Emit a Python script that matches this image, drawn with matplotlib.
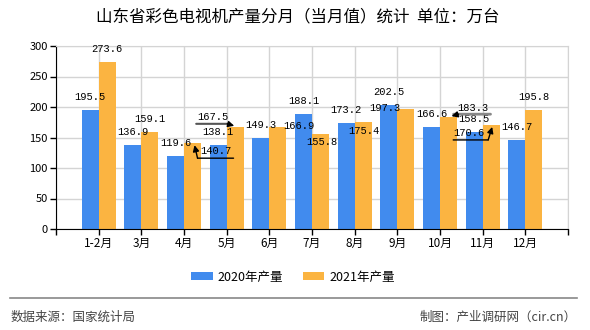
import matplotlib
matplotlib.use("Agg")
import matplotlib.pyplot as plt
from matplotlib.lines import Line2D
from matplotlib.transforms import offset_copy
import numpy as np

plt.rcParams['font.family'] = ['Noto Sans CJK SC', 'DejaVu Sans']

categories = ["1-2月", "3月", "4月", "5月", "6月", "7月", "8月", "9月", "10月", "11月", "12月"]
values_2020 = [195.5, 136.9, 119.6, 138.1, 149.3, 188.1, 173.2, 202.5, 166.6, 158.5, 146.7]
values_2021 = [273.6, 159.1, 140.7, 167.5, 166.9, 155.8, 175.4, 197.3, 183.3, 170.6, 195.8]
series_names = ["2020年产量", "2021年产量"]
title = "山东省彩色电视机产量分月（当月值）统计  单位：万台"
source_text = "数据来源：国家统计局"
maker_text = "制图：产业调研网（cir.cn）"

BLUE = "#418BEE"
ORANGE = "#FBB441"

W, H = 590, 330
fig = plt.figure(figsize=(W / 100, H / 100), dpi=100)
ax = fig.add_axes([56 / W, 1 - 229 / H, (568 - 56) / W, (229 - 46) / H])

x = np.arange(len(categories))
bw = 0.4
b1 = ax.bar(x - bw / 2, values_2020, bw, color=BLUE, label=series_names[0], zorder=2)
b2 = ax.bar(x + bw / 2, values_2021, bw, color=ORANGE, label=series_names[1], zorder=2)

ax.set_xlim(-1, len(categories))
ax.set_ylim(0, 300)
ax.set_yticks(np.arange(0, 301, 50))
ax.set_xticks(np.arange(-1, len(categories) + 1))
ax.set_xticklabels([""] + categories + [""])
ax.grid(True, color="#d4d4d4", linewidth=1, zorder=0)
ax.set_axisbelow(True)
for s in ["top", "right"]:
    ax.spines[s].set_color("#d4d4d4")
for s in ["left", "bottom"]:
    ax.spines[s].set_color("black")
ax.tick_params(axis="both", direction="out", length=4, width=1, color="black", labelsize=8.5, pad=2)
ax.tick_params(axis="y", labelsize=8, pad=2)

# label offsets (pixels) relative to bar top: (dx, dy), dy up-positive
default_off = (0, 13)
off_2020 = {}
off_2021 = {2: (23, -8), 3: (-22, 10), 4: (21, 1), 5: (1, -8), 6: (1, -9),
            7: (-21, 1), 8: (24, 9), 9: (-22, -8)}

lab_kw = dict(textcoords="offset pixels", ha="center", va="center",
              fontsize=7.5, family="Liberation Mono", zorder=5)
for i in range(len(categories)):
    dx, dy = off_2020.get(i, default_off)
    ax.annotate(f"{values_2020[i]:.1f}", xy=(x[i] - bw / 2, values_2020[i]), xytext=(dx, dy), **lab_kw)
    dx, dy = off_2021.get(i, default_off)
    ax.annotate(f"{values_2021[i]:.1f}", xy=(x[i] + bw / 2, values_2021[i]), xytext=(dx, dy), **lab_kw)


def seg(xd, yd, p1, p2, style="-", color="black", lw=1.0):
    t1 = offset_copy(ax.transData, fig=fig, x=p1[0], y=p1[1], units="dots")
    t2 = offset_copy(ax.transData, fig=fig, x=p2[0], y=p2[1], units="dots")
    props = dict(arrowstyle=style, color=color, lw=lw, shrinkA=0, shrinkB=0)
    if style != "-":
        props["mutation_scale"] = 9
    ax.annotate("", xy=(xd, yd), xycoords=t2, xytext=(xd, yd), textcoords=t1,
                arrowprops=props, zorder=6, annotation_clip=False)


# leader lines for shifted labels
i = 2
xa, ya = x[i] + bw / 2, values_2021[i]
seg(xa, ya, (5, -15), (41, -15))
seg(xa, ya, (5, -15), (2, -2), style="-|>")
i = 3
xa, ya = x[i] + bw / 2, values_2021[i]
seg(xa, ya, (-39, 3), (-7, 3), color="#555555", lw=1.5)
seg(xa, ya, (-8, 3), (-1, 1), style="-|>")
i = 8
xa, ya = x[i] + bw / 2, values_2021[i]
seg(xa, ya, (5, 3), (42, 3), color="#888888", lw=2)
seg(xa, ya, (10, 3), (3, 1), style="-|>")
i = 9
xa, ya = x[i] + bw / 2, values_2021[i]
seg(xa, ya, (-38, -15), (-3, -15))
seg(xa, ya, (-3, -15), (1, -2), style="-|>")

fig.text(298 / W, 1 - 17 / H, title, ha="center", va="center", fontsize=11.9)

fig.legend(handles=[b1, b2], labels=series_names, loc="center",
           bbox_to_anchor=(293 / W, 1 - 277 / H), ncol=2, frameon=False,
           fontsize=9, handlelength=1.7, handleheight=0.65, handletextpad=0.4,
           columnspacing=1.6)

fig.add_artist(Line2D([10 / W, 577 / W], [1 - 298 / H] * 2, color="#888888", lw=1.2))
fig.text(11 / W, 1 - 317 / H, source_text, ha="left", va="center", fontsize=9, color="#444444")
fig.text(577 / W, 1 - 317 / H, maker_text, ha="right", va="center", fontsize=9, color="#444444")

fig.savefig("out.png", dpi=100)
